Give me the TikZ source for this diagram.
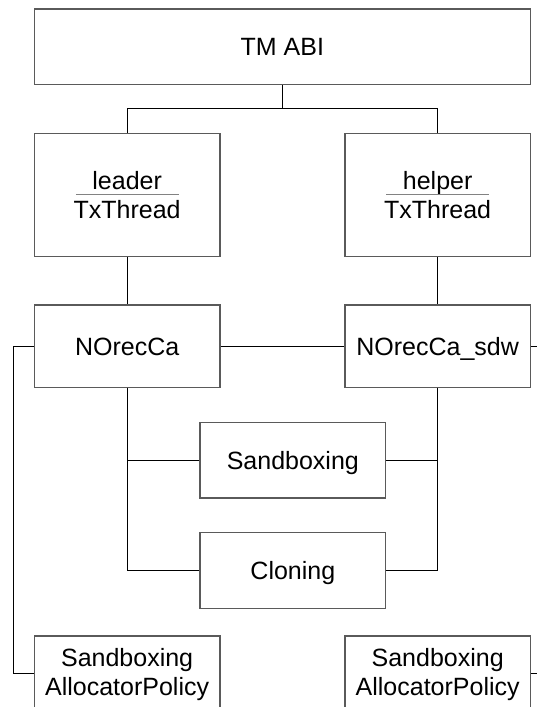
\documentclass[tikz,border=0pt]{standalone}
\usepackage{fontspec}
\setmainfont{Liberation Sans}
\usetikzlibrary{calc}
\definecolor{boxline}{RGB}{90,90,90}
\definecolor{rulegray}{RGB}{130,130,130}
\begin{document}
\begin{tikzpicture}[x=1pt,y=-1pt,
  every node/.style={font=\fontsize{25}{29}\selectfont},
  box/.style={draw=boxline, line width=1.3pt, fill=white,
    inner sep=0pt, text height=17.9pt, text depth=0pt},
  wire/.style={draw=black, line width=1pt},
  fracrule/.style={draw=rulegray, line width=1.6pt},
  lbl/.style={inner sep=0pt, anchor=base}]
\useasboundingbox (0,0) rectangle (537,707);
\clip (0,0) rectangle (537,707);

% boxes
\node[box, minimum width=496pt, minimum height=75.7pt] (abi) at (282.3,46.85) {TM ABI};
\node[box, minimum width=185.7pt, minimum height=123.4pt] (leader) at (127.15,195) {};
\node[box, minimum width=185.3pt, minimum height=123.4pt] (helper) at (437.65,195) {};
\node[box, minimum width=185.7pt, minimum height=82.3pt] (norec) at (127.15,346.15) {NOrecCa};
\node[box, minimum width=185.3pt, minimum height=82.3pt] (sdw) at (437.65,346.15) {NOrecCa\_sdw};
\node[box, minimum width=185.7pt, minimum height=75.7pt] (sand) at (292.85,460.15) {Sandboxing};
\node[box, minimum width=185.7pt, minimum height=75.6pt] (clon) at (292.85,570.5) {Cloning};
\node[box, minimum width=185.7pt, minimum height=74.6pt] (alocL) at (127.15,673.3) {};
\node[box, minimum width=185.3pt, minimum height=74.6pt] (alocR) at (437.65,673.3) {};

% thread boxes: role over class name
\node[lbl] (leadername) at ($(leader.center)+(0,-5.7)$) {leader};
\node[lbl] (leadercls) at ($(leader.center)+(0,23.3)$) {TxThread};
\draw[fracrule] ($(leader.center)+(-51.4,-0.7)$) -- ($(leader.center)+(51.4,-0.7)$);
\node[lbl] (helpername) at ($(helper.center)+(0,-5.7)$) {helper};
\node[lbl] (helpercls) at ($(helper.center)+(0,23.3)$) {TxThread};
\draw[fracrule] ($(helper.center)+(-51.4,-0.7)$) -- ($(helper.center)+(51.4,-0.7)$);

% allocator policy boxes
\node[lbl] (alocLa) at ($(alocL.north)+(0,30.7)$) {Sandboxing};
\node[lbl] (alocLb) at ($(alocL.north)+(0,60)$) {AllocatorPolicy};
\node[lbl] (alocRa) at ($(alocR.north)+(0,30.7)$) {Sandboxing};
\node[lbl] (alocRb) at ($(alocR.north)+(0,60)$) {AllocatorPolicy};

% connectors
\coordinate (j) at (282.3,108.3);
\draw[wire] (abi.south) -- (j);
\draw[wire] (leader.north) |- (j) -| (helper.north);
\draw[wire] (leader.south) -- (norec.north);
\draw[wire] (helper.south) -- (sdw.north);
\draw[wire] (norec.east) -- (sdw.west);
\coordinate (lbus) at (13.7,346.15);
\draw[wire] (norec.west) -- (lbus) |- (alocL.west);
\coordinate (r1) at (537,346.15);
\coordinate (r2) at (537,673.3);
\draw[wire] (sdw.east) -- (r1);
\draw[wire] (alocR.east) -- (r2);
\draw[wire] (norec.south) |- (clon.west);
\draw[wire] (sand.west) -- (sand.west -| norec.south);
\draw[wire] (sdw.south) |- (clon.east);
\draw[wire] (sand.east) -- (sand.east -| sdw.south);
\end{tikzpicture}
\end{document}
